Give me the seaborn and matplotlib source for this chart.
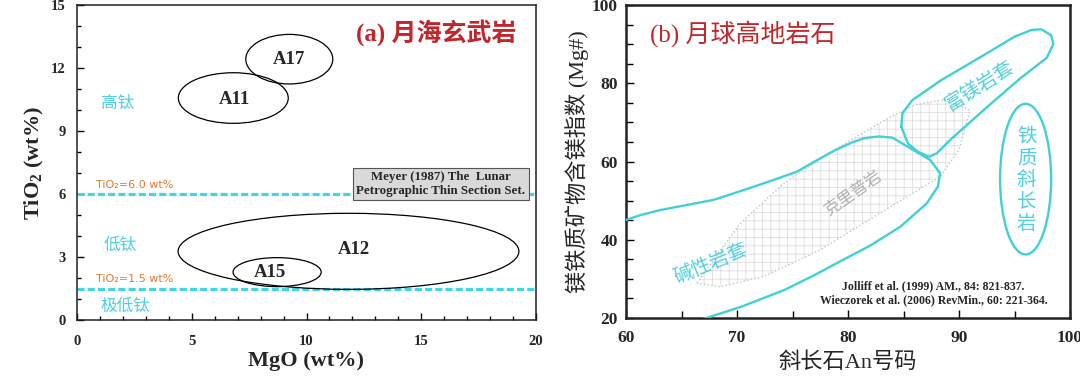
import numpy as np
import pandas as pd
import matplotlib
matplotlib.use('Agg')
import matplotlib.pyplot as plt
from matplotlib.patches import Ellipse, Polygon
from matplotlib.ticker import MultipleLocator
import seaborn as sns

# ---- (a) 月海玄武岩: 椭圆区域 (MgO 中心, TiO2 中心, 宽, 高) ----
mare_names = ['A17', 'A11', 'A12', 'A15']
mare_mgo = [9.25, 6.81, 11.83, 8.72]
mare_tio2 = [12.42, 10.57, 3.27, 2.28]
mare_w = [3.79, 4.79, 14.85, 3.84]
mare_h = [2.36, 2.41, 3.62, 1.38]
label_mgo = [9.25, 6.87, 12.06, 8.39]
label_tio2 = [12.41, 10.52, 3.37, 2.25]

ti_limits = [6.0, 1.5]
ti_limit_text = ['TiO₂=6.0 wt%', 'TiO₂=1.5 wt%']
ti_classes = ['高钛', '低钛', '极低钛']
ti_class_x = [1.78, 1.87, 2.09]
ti_class_y = [10.33, 3.57, 0.63]

# ---- (b) 月球高地岩石 ----
alkali_an = [57, 59.5, 61.3, 63.1, 65.5, 67.9, 70.6, 73.0, 75.4, 77.0, 78.7, 80.3, 81.5,
             82.8, 84.0, 85.9, 87.4, 88.3, 88.1, 87.1, 84.7, 82.0, 79.3, 77.0, 74.3,
             70.5, 66.7, 62.0, 57.0]
alkali_mg = [43.0, 44.6, 46.3, 47.6, 48.9, 50.2, 52.7, 55.0, 57.4, 60.0, 62.7, 64.8, 66.0,
             66.4, 66.1, 62.9, 60.4, 57.0, 53.6, 49.3, 43.3, 38.5, 34.5, 31.0, 27.2,
             23.0, 19.5, 17.0, 17.0]

mgsuite_an = [84.8, 84.9, 85.8, 88.4, 92.0, 95.0, 96.5, 97.4, 98.3, 98.5, 97.9, 95.5,
              92.6, 89.2, 88.0, 87.3, 86.3, 85.4, 84.8]
mgsuite_mg = [68.9, 72.3, 75.7, 80.8, 86.8, 91.9, 93.6, 93.8, 92.3, 90.0, 86.5, 81.2,
              74.1, 65.5, 62.1, 61.2, 62.5, 64.6, 68.9]

kreep_an = [66.4, 68.3, 70.3, 74.2, 78.8, 83.3, 86.0, 89.0, 91.0, 90.0, 88.3, 83.0,
            77.5, 72.4, 68.5]
kreep_mg = [28.9, 36.5, 44.2, 54.4, 63.0, 70.6, 74.5, 76.0, 73.0, 63.0, 56.1, 47.0,
            37.4, 30.6, 28.0]

fan_center = (96.0, 55.5)
fan_w, fan_h = 4.6, 38.5

CYAN = '#42d0d8'
CYAN_TXT = '#4fd0de'
RED = '#c0262b'
ORANGE = '#e2782e'

sns.set_theme(style='ticks')
plt.rcParams['font.family'] = ['Liberation Serif', 'Noto Sans CJK SC', 'DejaVu Sans']
plt.rcParams['mathtext.fontset'] = 'custom'
plt.rcParams['mathtext.rm'] = 'Liberation Serif'
plt.rcParams['mathtext.bf'] = 'Liberation Serif:bold'
plt.rcParams['hatch.linewidth'] = 0.6

fig = plt.figure(figsize=(10.8, 3.87), dpi=100)
ax1 = fig.add_axes([77 / 1080, 67 / 387, 459 / 1080, 315 / 387])
ax2 = fig.add_axes([626 / 1080, 69 / 387, 444 / 1080, 313 / 387])

# ---------------- (a) ----------------
for y in ti_limits:
    d = pd.DataFrame({'x': [0, 20], 'y': [y, y]})
    sns.lineplot(data=d, x='x', y='y', ax=ax1, color='#3fd6e6', lw=2.3,
                 dashes=False, zorder=2).lines[-1].set_dashes((2.2, 1.0))

for n, x, y, w, h in zip(mare_names, mare_mgo, mare_tio2, mare_w, mare_h):
    ax1.add_patch(Ellipse((x, y), w, h, fill=False, ec='black', lw=0.9, zorder=3))
for n, x, y in zip(mare_names, label_mgo, label_tio2):
    ax1.text(x, y, n, ha='center', va='center', fontsize=13.5, fontweight='bold',
             family='Liberation Serif', zorder=4)

for t, y in zip(ti_limit_text, ti_limits):
    ax1.text(0.83, y + 0.2, t, ha='left', va='bottom', fontsize=8,
             color=ORANGE, family='DejaVu Sans')
for t, x, y in zip(ti_classes, ti_class_x, ti_class_y):
    ax1.text(x, y, t, ha='center', va='center', fontsize=12, color=CYAN_TXT,
             family='Noto Sans CJK SC')

ax1.text(15.85, 6.49, 'Meyer (1987) The  Lunar\nPetrographic Thin Section Set.',
         ha='center', va='center', fontsize=9.3, fontweight='bold',
         family='Liberation Serif', linespacing=1.2, zorder=5,
         bbox=dict(boxstyle='square,pad=0.25', fc='#d9d9d9', ec='#555555', lw=0.8))
ax1.text(15.65, 13.67, '(a) 月海玄武岩', ha='center', va='center', fontsize=18,
         color=RED, fontweight='bold', family=['Liberation Serif', 'Noto Sans CJK SC'])

ax1.set_xlim(0, 20)
ax1.set_ylim(0, 15)
ax1.xaxis.set_major_locator(MultipleLocator(5))
ax1.xaxis.set_minor_locator(MultipleLocator(1))
ax1.yaxis.set_major_locator(MultipleLocator(3))
ax1.yaxis.set_minor_locator(MultipleLocator(1))
ax1.tick_params(which='both', direction='in', color='black', width=1.0)
ax1.tick_params(which='major', length=5)
ax1.tick_params(which='minor', length=3)
ax1.tick_params(axis='x', which='major', pad=11, labelsize=10.5)
ax1.tick_params(axis='y', which='major', pad=8, labelsize=10.5)
for lab in ax1.get_xticklabels() + ax1.get_yticklabels():
    lab.set_fontweight('bold')
ax1.set_xlabel('MgO (wt%)', fontsize=16, fontweight='bold', labelpad=2)
ax1.set_ylabel(r'TiO$_\mathbf{2}$ (wt%)', fontsize=16, fontweight='bold', labelpad=4)
for s in ax1.spines.values():
    s.set_linewidth(1.1)
    s.set_color('#222222')

# ---------------- (b) ----------------
ax2.add_patch(Polygon(np.column_stack([kreep_an, kreep_mg]), closed=True,
                      fc='none', ec='#dedede', lw=0, hatch='++', zorder=1))
sns.lineplot(x=kreep_an + kreep_an[:1], y=kreep_mg + kreep_mg[:1], sort=False,
             estimator=None, ax=ax2, color='#c4c4c4', lw=1.0, ls=':', zorder=2)
sns.lineplot(x=alkali_an, y=alkali_mg, sort=False, estimator=None, ax=ax2,
             color=CYAN, lw=1.7, zorder=3)
sns.lineplot(x=mgsuite_an, y=mgsuite_mg, sort=False, estimator=None, ax=ax2,
             color=CYAN, lw=1.7, zorder=3)
ax2.add_patch(Ellipse(fan_center, fan_w, fan_h, fill=False, ec=CYAN, lw=1.7, zorder=3))

ax2.text(67.6, 34.0, '碱性岩套', rotation=22, ha='center', va='center',
         fontsize=14, color=CYAN_TXT, family='Noto Sans CJK SC')
ax2.text(91.85, 79.4, '富镁岩套', rotation=32, ha='center', va='center',
         fontsize=14, color=CYAN_TXT, family='Noto Sans CJK SC')
ax2.text(80.5, 52.0, '克里普岩', rotation=35, ha='center', va='center',
         fontsize=12, color='#b0b0b0', family='Noto Sans CJK SC')
ax2.text(96.1, 55.3, '\n'.join('铁质斜长岩'), ha='center', va='center',
         fontsize=14, color=CYAN_TXT, family='Noto Sans CJK SC', linespacing=1.05)
ax2.text(87.7, 26.3, 'Jolliff et al. (1999) AM., 84: 821-837.\n'
         'Wieczorek et al. (2006) RevMin., 60: 221-364.',
         ha='center', va='center', fontsize=8.5, fontweight='bold',
         family='Liberation Serif', linespacing=1.3)
ax2.text(70.5, 92.8, '(b) 月球高地岩石', ha='center', va='center', fontsize=18,
         color=RED, family=['Liberation Serif', 'Noto Sans CJK SC'])

ax2.set_xlim(60, 100)
ax2.set_ylim(20, 100)
ax2.xaxis.set_major_locator(MultipleLocator(10))
ax2.xaxis.set_minor_locator(MultipleLocator(5))
ax2.yaxis.set_major_locator(MultipleLocator(20))
ax2.yaxis.set_minor_locator(MultipleLocator(5))
ax2.tick_params(which='both', direction='in', color='black', width=1.0)
ax2.tick_params(which='major', length=6)
ax2.tick_params(which='minor', length=5)
ax2.tick_params(axis='x', which='major', pad=9, labelsize=12.5)
ax2.tick_params(axis='y', which='major', pad=6, labelsize=12.5)
for lab in ax2.get_xticklabels() + ax2.get_yticklabels():
    lab.set_fontweight('bold')
ax2.set_xlabel('斜长石An号码', fontsize=16, labelpad=4,
               family=['Liberation Serif', 'Noto Sans CJK SC'])
ax2.set_ylabel('镁铁质矿物含镁指数 (Mg#)', fontsize=16, labelpad=2,
               family=['Liberation Serif', 'Noto Sans CJK SC'])
for s in ax2.spines.values():
    s.set_linewidth(1.8)
    s.set_color('#222222')

fig.savefig('out.png', dpi=100, facecolor='white')
